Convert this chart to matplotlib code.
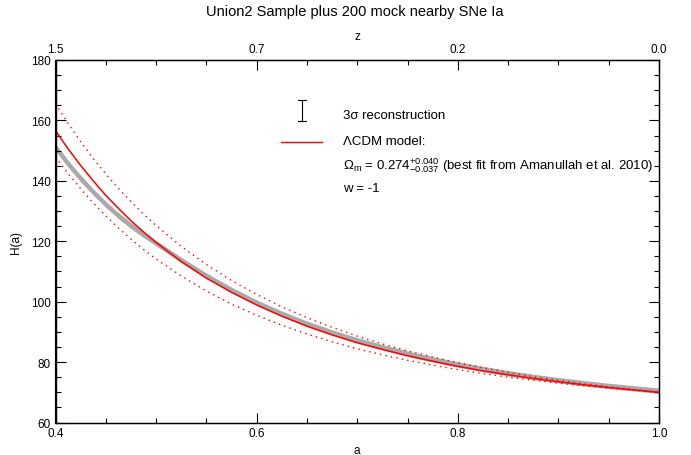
import numpy as np
import matplotlib
matplotlib.use('Agg')
import matplotlib.pyplot as plt
from matplotlib.ticker import MultipleLocator

plt.rcParams['font.family'] = ['Liberation Sans', 'DejaVu Sans']
plt.rcParams['mathtext.fontset'] = 'custom'
plt.rcParams['mathtext.rm'] = 'Liberation Sans'
plt.rcParams['mathtext.it'] = 'Liberation Sans:italic'
plt.rcParams['mathtext.default'] = 'regular'

# scale factor grid (finer where the curves bend most)
a = [0.4000, 0.4125, 0.4250, 0.4375, 0.4500, 0.4625, 0.4750, 0.4875,
     0.500, 0.525, 0.550, 0.575, 0.600,
     0.625, 0.650, 0.675, 0.700, 0.725, 0.750, 0.775, 0.800, 0.825,
     0.850, 0.875, 0.900, 0.925, 0.950, 0.975, 1.000]

# LCDM best fit and its Omega_m error range
h_lcdm = [156.6, 150.6, 145.1, 140.0, 135.2, 130.9, 126.8, 123.1,
          119.6, 113.3, 107.8, 103.1, 98.9,
          95.2, 91.9, 89.0, 86.4, 84.2, 82.1, 80.3, 78.6, 77.1,
          75.8, 74.6, 73.5, 72.5, 71.6, 70.8, 70.0]
h_upper = [165.5, 159.0, 153.0, 147.4, 142.3, 137.5, 133.1, 129.0,
           125.2, 118.3, 112.3, 107.0, 102.4,
           98.3, 94.7, 91.5, 88.6, 86.0, 83.7, 81.7, 79.8, 78.1,
           76.6, 75.2, 74.0, 72.8, 71.8, 70.9, 70.0]
h_lower = [147.9, 142.4, 137.4, 132.7, 128.4, 124.4, 120.7, 117.3,
           114.1, 108.5, 103.5, 99.2, 95.5,
           92.2, 89.3, 86.7, 84.4, 82.4, 80.6, 79.0, 77.5, 76.2,
           75.0, 74.0, 73.0, 72.2, 71.4, 70.7, 70.0]

# 3 sigma reconstruction band (centre and half width)
h_rec = [151.1, 145.7, 140.8, 136.3, 132.2, 128.5, 125.2, 122.2,
         119.4, 113.8, 108.6, 103.9, 99.7,
         96.0, 92.7, 89.8, 87.2, 84.9, 82.8, 80.9, 79.2, 77.7,
         76.3, 75.1, 74.0, 73.0, 72.1, 71.3, 70.5]
h_err = [1.2, 1.15, 1.1, 1.05, 1.0, 1.0, 1.0, 0.95,
         0.9, 0.9, 0.9, 0.9, 0.9,
         0.9, 0.9, 0.9, 0.9, 0.9, 0.9, 0.9, 0.9, 0.9,
         0.9, 0.9, 0.9, 0.9, 0.9, 0.9, 0.9]

bottom_ticks = [0.4, 0.6, 0.8, 1.0]
top_labels = ['1.5', '0.7', '0.2', '0.0']

rec = np.array(h_rec)
err = np.array(h_err)

fig = plt.figure(figsize=(6.91, 4.56), dpi=100)
ax = fig.add_axes([55.5/691, 1-423.5/456, 603.5/691, 362.5/456])

ax.fill_between(a, rec-err, rec+err, color='#a9a9a9', lw=0)
ax.plot(a, h_upper, color='red', lw=1.0, ls=(0, (1, 3)))
ax.plot(a, h_lower, color='red', lw=1.0, ls=(0, (1, 3)))
ax.plot(a, h_lcdm, color='red', lw=1.1)

ax.set_xlim(0.4, 1.0)
ax.set_ylim(60, 180)
ax.set_xticks(bottom_ticks)
ax.xaxis.set_minor_locator(MultipleLocator(0.05))
ax.yaxis.set_major_locator(MultipleLocator(20))
ax.yaxis.set_minor_locator(MultipleLocator(5))
ax.set_xticklabels(['%.1f' % t for t in bottom_ticks])

ax.tick_params(which='both', direction='in', right=True, top=False, labelsize=8.5, width=0.8)
ax.tick_params(which='major', length=7)
ax.tick_params(which='minor', length=3.5)
ax.set_xlabel('a', fontsize=8.5, labelpad=3)
ax.set_ylabel('H(a)', fontsize=8.5, labelpad=6)

ax2 = ax.twiny()
ax2.set_xlim(0.4, 1.0)
ax2.set_xticks(bottom_ticks)
ax2.set_xticklabels(top_labels)
ax2.xaxis.set_minor_locator(MultipleLocator(0.05))
ax2.tick_params(which='both', direction='in', labelsize=8.5, width=0.8)
ax2.tick_params(which='major', length=7)
ax2.tick_params(which='minor', length=3.5)
ax2.set_xlabel('z', fontsize=8.5, labelpad=3)

for s in ax.spines.values():
    s.set_linewidth(1.0)

# legend drawn by hand
T = ax.transAxes
ax.plot([0.4085, 0.4085], [0.832, 0.890], color='black', lw=0.8, transform=T)
ax.plot([0.4025, 0.4145], [0.890, 0.890], color='black', lw=0.8, transform=T)
ax.plot([0.4025, 0.4145], [0.832, 0.832], color='black', lw=0.8, transform=T)
ax.plot([0.374, 0.442], [0.775, 0.775], color='red', lw=1.0, transform=T)

fs = 9.5
ax.text(0.476, 0.840, '3σ reconstruction', transform=T, fontsize=fs, va='baseline')
ax.text(0.476, 0.768, 'ΛCDM model:', transform=T, fontsize=fs, va='baseline')
ax.text(0.476, 0.702, r'$\Omega_m$ = 0.274$^{+0.040}_{-0.037}$ (best fit from Amanullah et al. 2010)',
        transform=T, fontsize=fs, va='baseline')
ax.text(0.476, 0.639, 'w = -1', transform=T, fontsize=fs, va='baseline')

fig.text(0.514, 1-12/456, 'Union2 Sample plus 200 mock nearby SNe Ia', ha='center', va='center', fontsize=10.5)

fig.savefig('out.png', dpi=100)
